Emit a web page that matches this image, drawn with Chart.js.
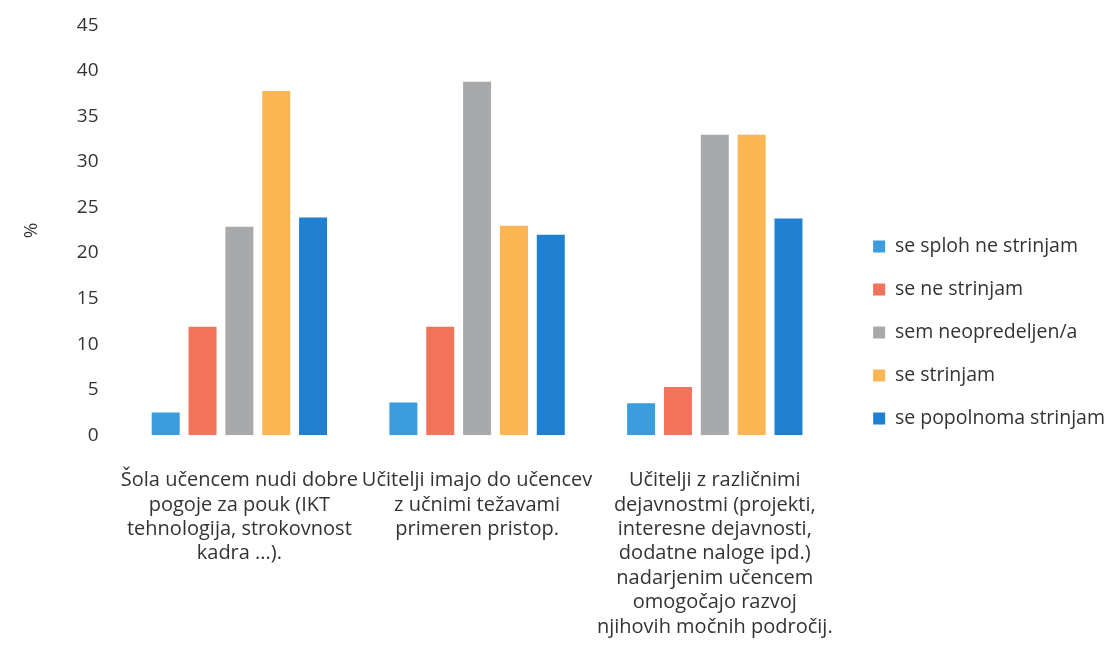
<!DOCTYPE html>
<html>
<head>
<meta charset="utf-8">
<script src="https://cdn.jsdelivr.net/npm/chart.js@4"></script>
<style>
  html, body { margin: 0; padding: 0; background: #fff; }
  #wrap { width: 1109px; height: 645px; }
</style>
</head>
<body>
<div id="wrap"><canvas id="chart"></canvas></div>
<script>
const categories = [
  ["Šola učencem nudi dobre", "pogoje za pouk (IKT", "tehnologija, strokovnost", "kadra ...)."],
  ["Učitelji imajo do učencev", "z učnimi težavami", "primeren pristop."],
  ["Učitelji z različnimi", "dejavnostmi (projekti,", "interesne dejavnosti,", "dodatne naloge ipd.)", "nadarjenim učencem", "omogočajo razvoj", "njihovih močnih področij."]
];

const seriesNames = ["se sploh ne strinjam", "se ne strinjam", "sem neopredeljen/a", "se strinjam", "se popolnoma strinjam"];
const seSplohNeStrinjam = [2.5, 3.6, 3.5];
const seNeStrinjam = [11.9, 11.9, 5.3];
const semNeopredeljen = [22.9, 38.8, 33.0];
const seStrinjam = [37.8, 23.0, 33.0];
const sePopolnomaStrinjam = [23.9, 22.0, 23.8];
const yTicks = [0, 5, 10, 15, 20, 25, 30, 35, 40, 45];

const colors = ["#3b9ddd", "#f2735b", "#a8a9ab", "#fbb552", "#1f80d2"];
const values = [seSplohNeStrinjam, seNeStrinjam, semNeopredeljen, seStrinjam, sePopolnomaStrinjam];

const textColor = "#333333";
const fontFamily = "'Open Sans', sans-serif";

// nudge the legend a bit to the right without shrinking the plot
const legendShift = {
  id: "legendShift",
  afterLayout(chart) {
    if (!chart.legend) return;
    chart.legend.left += 16;
    chart.legend.right += 16;
    chart.legend.top -= 3;
    chart.legend.bottom -= 3;
  }
};

new Chart(document.getElementById("chart"), {
  type: "bar",
  data: {
    labels: categories,
    datasets: seriesNames.map((name, i) => ({
      label: name,
      data: values[i],
      backgroundColor: colors[i],
      categoryPercentage: 0.775,
      barPercentage: 0.76
    }))
  },
  plugins: [legendShift],
  options: {
    responsive: true,
    maintainAspectRatio: false,
    animation: false,
    layout: { padding: { top: 7, right: 10, left: 16, bottom: -19 } },
    plugins: {
      tooltip: { enabled: false },
      legend: {
        position: "right",
        align: "center",
        labels: {
          color: textColor,
          font: { family: fontFamily, size: 19.5 },
          boxWidth: 12,
          boxHeight: 12,
          padding: 23.5
        }
      }
    },
    scales: {
      x: {
        grid: { display: false },
        border: { display: false },
        ticks: {
          color: textColor,
          font: { family: fontFamily, size: 20, lineHeight: 1.22 },
          maxRotation: 0,
          autoSkip: false,
          padding: 25
        }
      },
      y: {
        min: 0,
        max: 45,
        afterBuildTicks: axis => { axis.ticks = yTicks.map(v => ({ value: v })); },
        grid: { display: false },
        border: { display: false },
        ticks: {
          color: textColor,
          font: { family: fontFamily, size: 19 },
          padding: 14
        },
        title: {
          display: true,
          text: "%",
          color: textColor,
          font: { family: fontFamily, size: 19 },
          padding: { bottom: 20 }
        }
      }
    }
  }
});
</script>
</body>
</html>
